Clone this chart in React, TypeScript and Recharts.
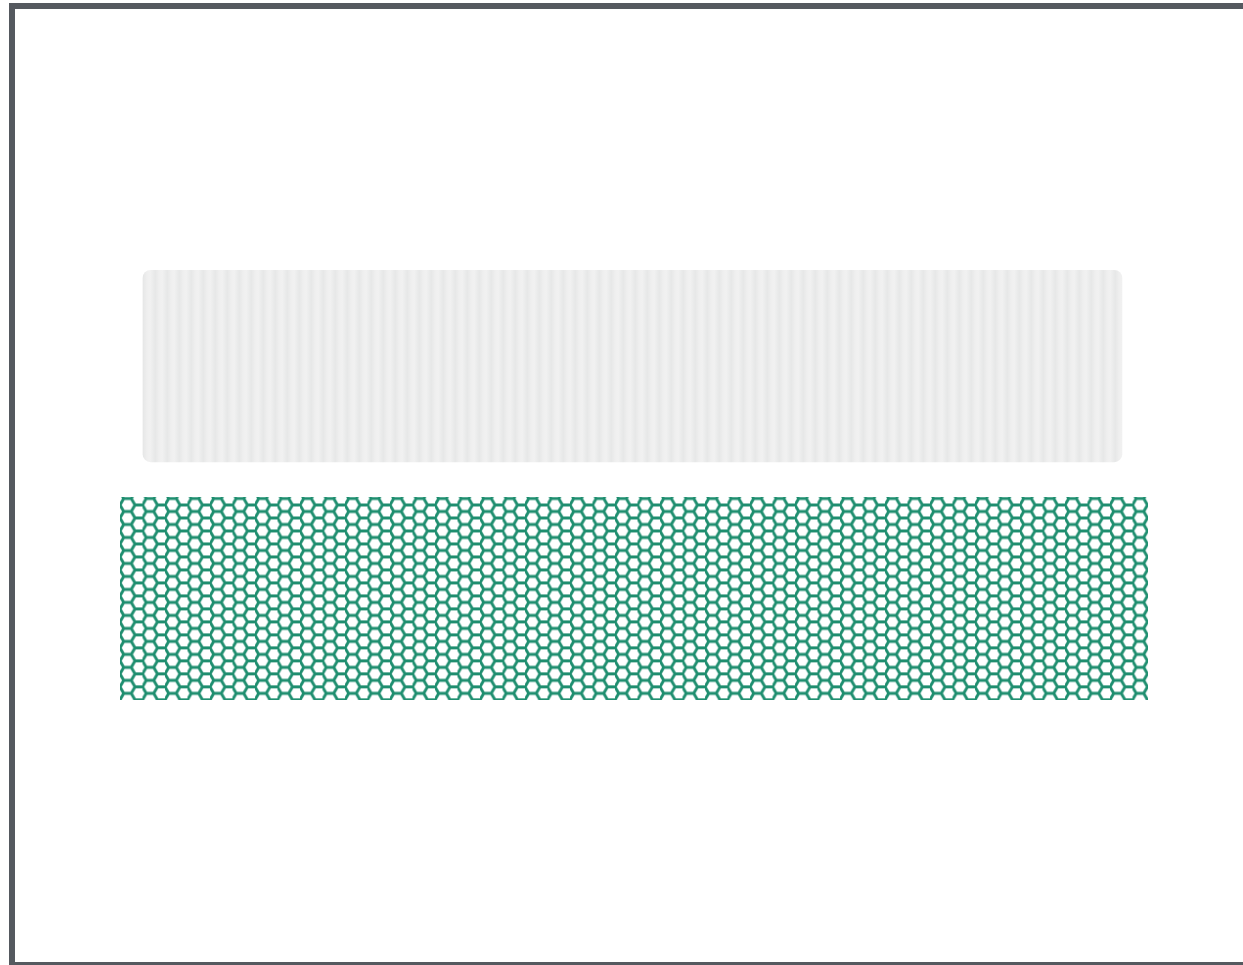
import React from "react";
import { ComposedChart, XAxis, YAxis, ReferenceArea, Scatter } from "recharts";

// Panels drawn as areas in data units (x: 0-100, y: 0-100)
const panelNames = ["corrugated", "mesh"];
const panelX0 = [2.2, 0];
const panelX1 = [97.5, 100];
const panelY0 = [55.3, 0];
const panelY1 = [100, 47.2];

const panelFills = ["url(#corrugatedPattern)", "url(#hexPattern)"];
const panelRadius = [8, 0];

const rows = panelNames.map((name, i) => ({
  name,
  x0: panelX0[i],
  x1: panelX1[i],
  y0: panelY0[i],
  y1: panelY1[i],
}));

const S = 7.5;
const H = Math.sqrt(3) * S;
const hexPath = `M0,${H / 2} L${S / 2},0 L${1.5 * S},0 L${2 * S},${H / 2} L${1.5 * S},${H} L${S / 2},${H} Z M${2 * S},${H / 2} L${3 * S},${H / 2}`;

export default function App() {
  return (
    <div style={{ position: "absolute", left: 0, top: 0, width: 1243, height: 965 }}>
      <div
        style={{
          position: "absolute",
          left: 9,
          top: 3,
          width: 1300,
          height: 965,
          border: "6px solid #55595f",
          boxSizing: "border-box",
          background: "#ffffff",
        }}
      />
      <svg width={0} height={0} style={{ position: "absolute" }}>
        <defs>
          <linearGradient id="corrGrad" x1="0" y1="0" x2="1" y2="0">
            <stop offset="0%" stopColor="#e6e7e7" />
            <stop offset="35%" stopColor="#efefef" />
            <stop offset="60%" stopColor="#f1f1f1" />
            <stop offset="100%" stopColor="#e7e8e8" />
          </linearGradient>
          <pattern
            id="corrugatedPattern"
            patternUnits="userSpaceOnUse"
            width={12}
            height={20}
            patternTransform="translate(143,0)"
          >
            <rect x={0} y={0} width={12} height={20} fill="url(#corrGrad)" />
          </pattern>
          <pattern
            id="hexPattern"
            patternUnits="userSpaceOnUse"
            width={3 * S}
            height={H}
            patternTransform="translate(120,498.5)"
          >
            <rect x={0} y={0} width={3 * S} height={H} fill="#ffffff" />
            <path d={hexPath} fill="none" stroke="#1e8e6f" strokeWidth={2.9} strokeLinejoin="round" />
          </pattern>
        </defs>
      </svg>
      <div style={{ position: "absolute", left: 0, top: 0 }}>
        <ComposedChart
          width={1243}
          height={965}
          data={rows}
          margin={{ top: 270, right: 95, bottom: 265, left: 120 }}
        >
          <XAxis type="number" dataKey="x0" domain={[0, 100]} hide allowDataOverflow />
          <YAxis type="number" dataKey="y0" domain={[0, 100]} hide allowDataOverflow />
          <Scatter dataKey="y0" isAnimationActive={false} shape={() => null} />
          {rows.map((r, i) => (
            <ReferenceArea
              key={r.name}
              x1={r.x0}
              x2={r.x1}
              y1={r.y0}
              y2={r.y1}
              fill={panelFills[i]}
              fillOpacity={1}
              stroke="none"
              radius={panelRadius[i]}
              ifOverflow="visible"
            />
          ))}
        </ComposedChart>
      </div>
    </div>
  );
}
